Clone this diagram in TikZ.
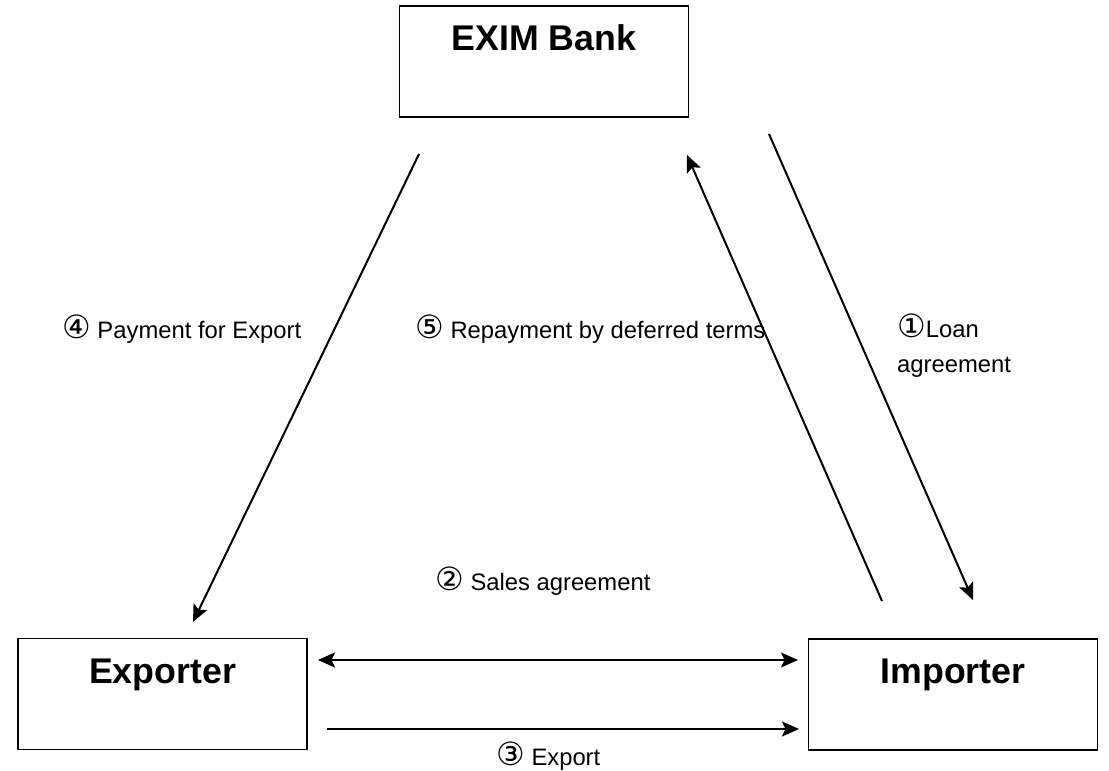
\documentclass[tikz,border=0pt]{standalone}
\usepackage{fontspec}
\setmainfont{Liberation Sans}
\newfontfamily\djv{DejaVu Sans}
\usetikzlibrary{arrows.meta}
\newcommand{\cnum}[1]{{\djv\fontsize{32}{32}\selectfont #1}}
\begin{document}
\begin{tikzpicture}[x=1pt,y=-1pt,
  party/.style={draw, line width=1.8pt, inner sep=0pt, minimum width=289pt, minimum height=111pt,
     font=\fontsize{35.7}{40}\selectfont\bfseries, text height=26pt, text depth=48pt},
  flow/.style={line width=2pt, -{Stealth[length=17pt,width=15pt,inset=3.5pt]}},
  both/.style={line width=2pt, {Stealth[length=17pt,width=15pt,inset=3.5pt]}-{Stealth[length=17pt,width=15pt,inset=3.5pt]}},
  lbl/.style={anchor=base west, inner sep=0pt, font=\fontsize{23.8}{28}\selectfont}]
\useasboundingbox (0,0) rectangle (1109,771);
\fill[white] (0,0) rectangle (1109,771);
% parties
\node[party] (bank) at (544,61.5) {EXIM Bank};
\node[party] (exp) at (162.5,694) {Exporter};
\node[party] (imp) at (953,694.5) {Importer};
% connector ends
\coordinate (a4s) at (419,154);
\coordinate (a4e) at (193,622);
\coordinate (a5s) at (882,601);
\coordinate (a5e) at (687,155);
\coordinate (a1s) at (769,134);
\coordinate (a1e) at (973,600);
\coordinate (a2s) at (318,660);
\coordinate (a2e) at (798,660);
\coordinate (a3s) at (327,729);
\coordinate (a3e) at (799,729);
\draw[flow] (a4s) -- (a4e);
\draw[flow] (a5s) -- (a5e);
\draw[flow] (a1s) -- (a1e);
\draw[both] (a2s) -- (a2e);
\draw[flow] (a3s) -- (a3e);
% labels
\node[lbl] (l4) at (62,338) {\cnum{④} Payment for Export};
\node[lbl] (l5) at (415,338) {\cnum{⑤} Repayment by deferred terms};
\node[lbl] (l1a) at (897,337) {\cnum{①}Loan};
\node[lbl] (l1b) at (897,372) {agreement};
\node[lbl] (l2) at (435,590) {\cnum{②} Sales agreement};
\node[lbl] (l3) at (496,765) {\cnum{③} Export};
\end{tikzpicture}
\end{document}
